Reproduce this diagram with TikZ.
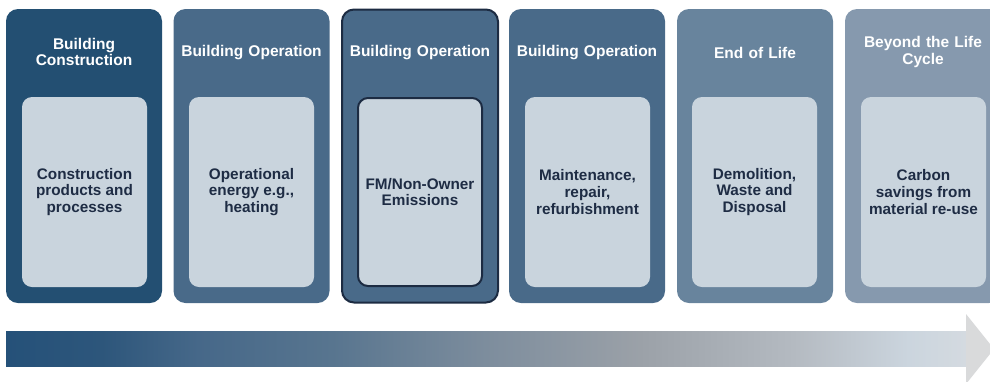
\documentclass[tikz,border=0pt]{standalone}
\usepackage{fontspec}
\setmainfont{Liberation Sans}
\usetikzlibrary{positioning}

\definecolor{stageA}{HTML}{234F72}
\definecolor{stageB}{HTML}{496A89}
\definecolor{stageC}{HTML}{68849D}
\definecolor{stageD}{HTML}{8699AE}
\definecolor{panel}{HTML}{C9D4DD}
\definecolor{ink}{HTML}{1E2C44}
\definecolor{edge}{HTML}{1C2B42}
\definecolor{headgrey}{HTML}{D9DADB}

% timeline body: dark blue fading to light grey
\pgfdeclarehorizontalshading{lifecycle}{100bp}{%
  color(0bp)=({rgb,255:red,37;green,81;blue,121});
  color(25bp)=({rgb,255:red,37;green,81;blue,121});
  color(30bp)=({rgb,255:red,45;green,86;blue,123});
  color(35bp)=({rgb,255:red,70;green,104;blue,137});
  color(42bp)=({rgb,255:red,88;green,117;blue,143});
  color(50bp)=({rgb,255:red,125;green,141;blue,157});
  color(58bp)=({rgb,255:red,155;green,161;blue,168});
  color(66bp)=({rgb,255:red,180;green,186;blue,193});
  color(72bp)=({rgb,255:red,203;green,213;blue,222});
  color(75bp)=({rgb,255:red,212;green,218;blue,224});
  color(100bp)=({rgb,255:red,212;green,218;blue,224})}

\tikzset{
  stage/.style={draw=none, rounded corners=12pt, minimum width=156pt,
    minimum height=294pt, inner sep=0pt},
  stagetitle/.style={text=white, font=\bfseries\fontsize{15.5}{16.5}\selectfont,
    align=center, text width=154pt, inner sep=0pt},
  card/.style={fill=panel, rounded corners=10pt, minimum width=125pt,
    minimum height=190pt, inner sep=0pt, text=ink,
    font=\bfseries\fontsize{15.3}{16.7}\selectfont, align=center},
  focus/.style={draw=edge, line width=2pt}
}

\begin{document}
\begin{tikzpicture}[x=1pt, y=-1pt]
\useasboundingbox (0,0) rectangle (990,381);
\clip (0,0) rectangle (990,381);

% stage columns
\node[stage, fill=stageA] (s1) at (84,156) {};
\node[stage, fill=stageB] (s2) at (251.5,156) {};
\node[stage, fill=stageB, focus, minimum width=156pt, minimum height=293pt] (s3) at (420,156) {};
\node[stage, fill=stageB] (s4) at (587,156) {};
\node[stage, fill=stageC] (s5) at (755,156) {};
\node[stage, fill=stageD] (s6) at (923,156) {};

% stage titles
\node[stagetitle] (t1) at (84,52) {Building\\Construction};
\node[stagetitle] (t2) at (251.5,52.5) {Building Operation};
\node[stagetitle] (t3) at (420,52.5) {Building Operation};
\node[stagetitle] (t4) at (587,52.5) {Building Operation};
\node[stagetitle] (t5) at (755,52.5) {End of Life};
\node[stagetitle] (t6) at (923,52) {Beyond the Life\\Cycle};

% inner cards
\node[card] (c1) at (84.5,192) {Construction\\products and\\processes};
\node[card] (c2) at (251.5,192) {Operational\\energy e.g.,\\heating};
\node[card, focus, minimum width=124pt, minimum height=188pt] (c3) at (420,192) {FM/Non-Owner\\Emissions};
\node[card] (c4) at (587.5,192) {Maintenance,\\repair,\\refurbishment};
\node[card] (c5) at (754.5,192) {Demolition,\\Waste and\\Disposal};
\node[card] (c6) at (923.5,192) {Carbon\\savings from\\material re-use};

% timeline arrow
\shade[shading=lifecycle] (6,331.5) rectangle (966,366.5);
\fill[headgrey] (966,331.5) -- (966,314) -- (994,349) -- (966,384) -- (966,366.5) -- cycle;
\end{tikzpicture}
\end{document}
